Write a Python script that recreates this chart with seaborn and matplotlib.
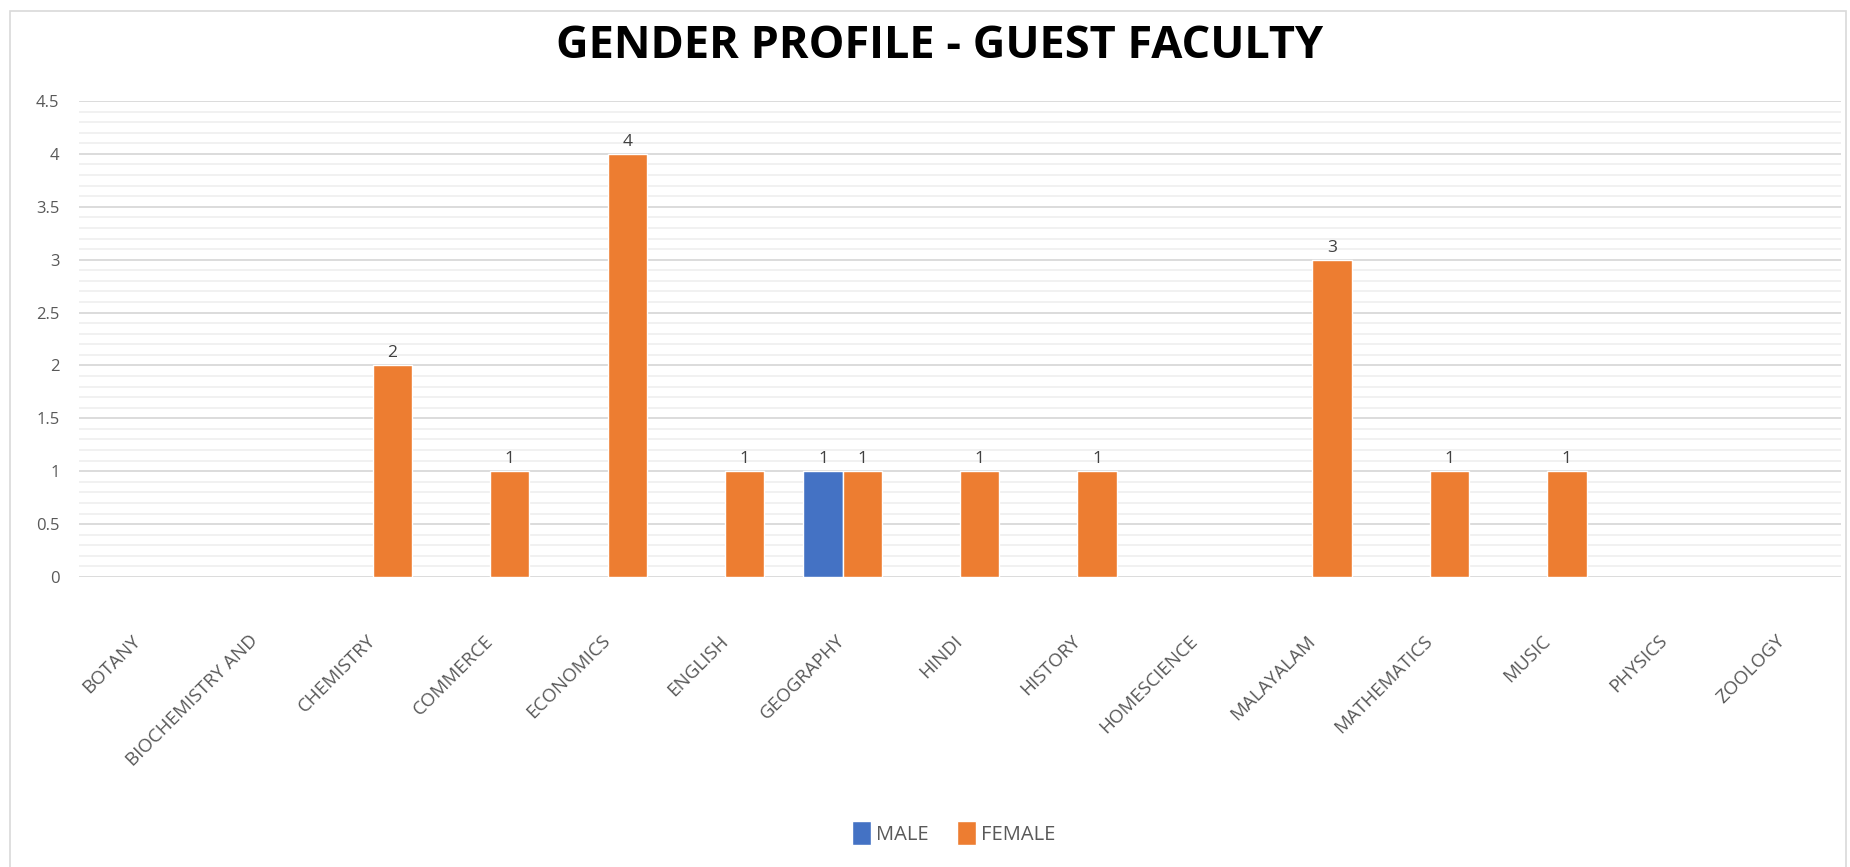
import numpy as np
import pandas as pd
import matplotlib
matplotlib.use('Agg')
import matplotlib.pyplot as plt
from matplotlib.ticker import MultipleLocator
from matplotlib.patches import Rectangle
import seaborn as sns

# date
departamente = ['BOTANY', 'BIOCHEMISTRY AND', 'CHEMISTRY', 'COMMERCE', 'ECONOMICS',
                'ENGLISH', 'GEOGRAPHY', 'HINDI', 'HISTORY', 'HOMESCIENCE',
                'MALAYALAM', 'MATHEMATICS', 'MUSIC', 'PHYSICS', 'ZOOLOGY']
male = [np.nan, np.nan, np.nan, np.nan, np.nan, np.nan, 1, np.nan, np.nan, np.nan,
        np.nan, np.nan, np.nan, np.nan, np.nan]
female = [np.nan, np.nan, 2, 1, 4, 1, 1, 1, 1, np.nan, 3, 1, 1, np.nan, np.nan]
gen = ['MALE', 'FEMALE']
culori = {'MALE': '#4472C4', 'FEMALE': '#ED7D31'}


def main():
    df = pd.DataFrame({'DEPT': departamente * 2,
                       'GEN': [gen[0]] * len(departamente) + [gen[1]] * len(departamente),
                       'NR': male + female})

    sns.set_style('white')
    plt.rcParams['font.family'] = ['Open Sans', 'DejaVu Sans']

    fig = plt.figure(figsize=(18.5, 8.67), dpi=100)
    ax = fig.add_axes([79 / 1850, 1 - 577 / 867, (1841 - 79) / 1850, (577 - 101) / 867])

    sns.barplot(data=df, x='DEPT', y='NR', hue='GEN', hue_order=gen, order=departamente,
                palette=culori, saturation=1, width=0.667, errorbar=None, ax=ax,
                legend=True, zorder=3)

    ax.set_ylim(0, 4.5)
    ax.set_xlim(-0.5, len(departamente) - 0.5)
    ax.yaxis.set_major_locator(MultipleLocator(0.5))
    ax.yaxis.set_minor_locator(MultipleLocator(0.1))
    ax.grid(axis='y', which='major', color='#D9D9D9', linewidth=1.3, zorder=0)
    ax.grid(axis='y', which='minor', color='#EDEDED', linewidth=1.1, zorder=0)
    ax.set_axisbelow(True)
    for s in ax.spines.values():
        s.set_visible(False)

    ax.set_xlabel('')
    ax.set_ylabel('')
    ax.yaxis.set_major_formatter(matplotlib.ticker.FuncFormatter(lambda v, p: f'{v:g}'))
    ax.tick_params(axis='y', which='both', length=0, labelsize=12, labelcolor='#595959', pad=14)
    ax.tick_params(axis='x', length=0, labelsize=13.5, labelcolor='#595959', pad=44)
    plt.setp(ax.get_xticklabels(), rotation=45, ha='right', va='center', rotation_mode='anchor')

    for cont in ax.containers:
        ax.bar_label(cont, fmt='%g', padding=3, fontsize=12.5, color='#404040')

    # legenda jos, patrate ca in Excel
    ax.legend(loc='center', bbox_to_anchor=(0.4966, -0.538), ncol=2, frameon=False,
              fontsize=14.5, labelcolor='#595959', handlelength=0.95, handleheight=1.4,
              handletextpad=0.25, columnspacing=1.4)

    fig.text(0.508, 1 - 47 / 867, 'GENDER PROFILE - GUEST FACULTY', ha='center', va='center',
             fontsize=32.5, fontweight='bold', color='#000000', family=['Open Sans', 'DejaVu Sans'])

    fig.patches.append(Rectangle((10 / 1850, -0.01), 1836 / 1850, 1 - 11 / 867 + 0.01,
                                 transform=fig.transFigure, fill=False,
                                 edgecolor='#D9D9D9', linewidth=1.2))

    fig.savefig('out.png', dpi=100)
    plt.close(fig)


if __name__ == '__main__':
    main()
